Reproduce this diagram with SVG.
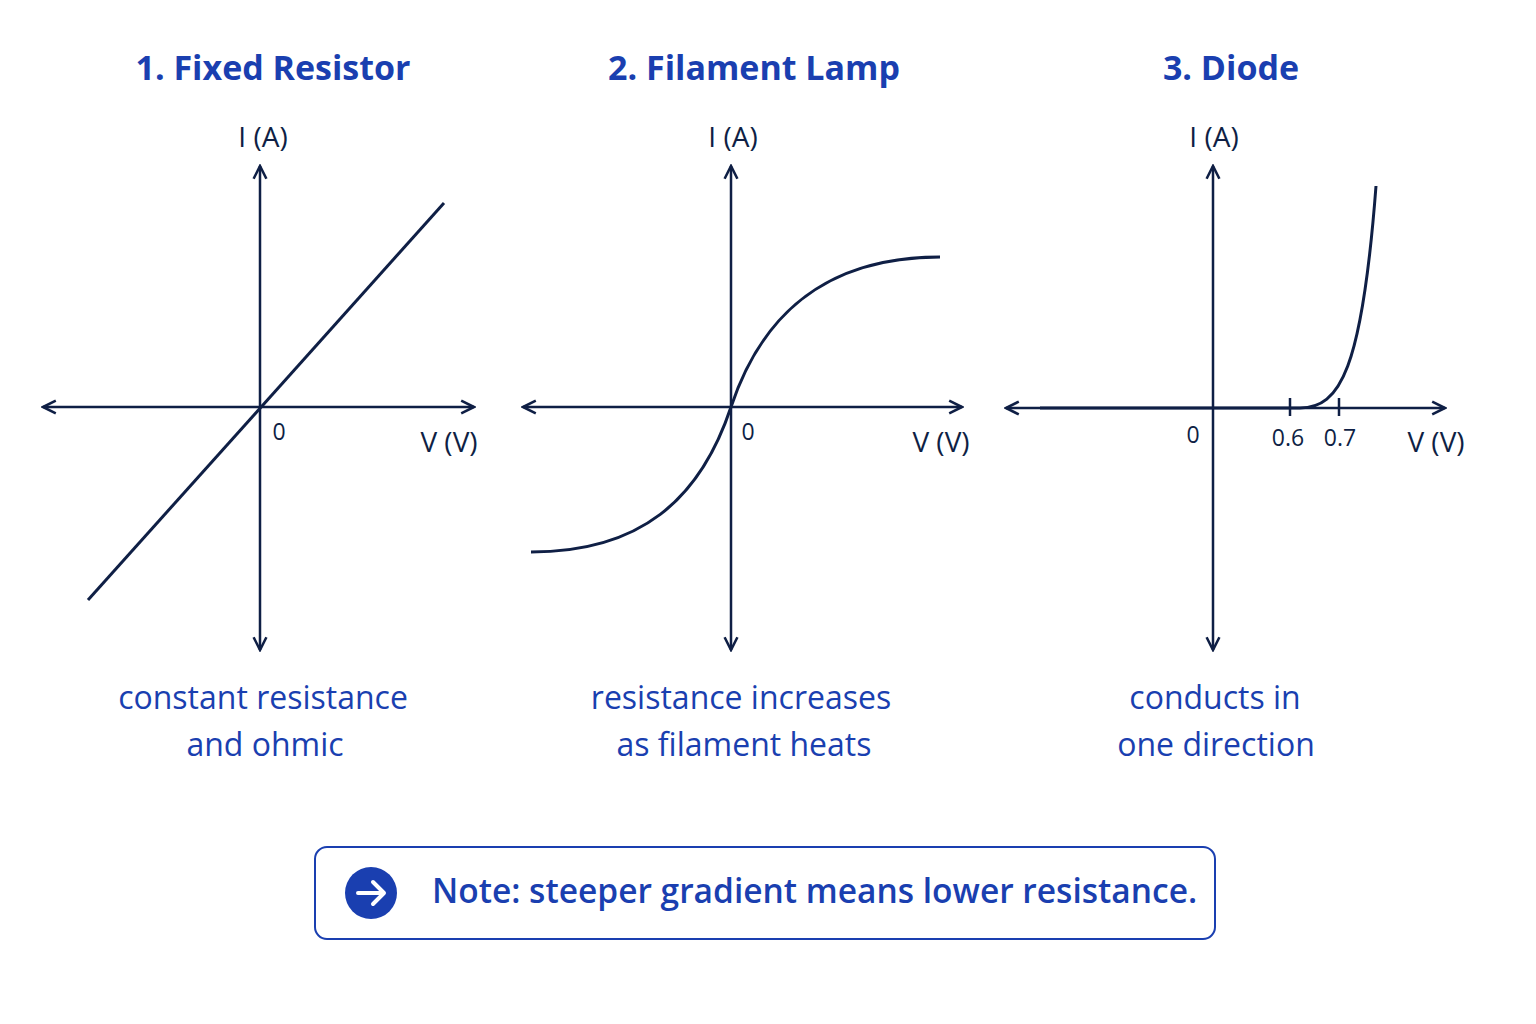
<svg xmlns="http://www.w3.org/2000/svg" width="1536" height="1024" viewBox="0 0 1536 1024">
<defs>
<marker id="ah" viewBox="0 0 10 10" refX="9" refY="5" markerWidth="16" markerHeight="16" markerUnits="userSpaceOnUse" orient="auto-start-reverse"><path d="M1,1 L9,5 L1,9" fill="none" stroke="#0f1f45" stroke-width="1.6"/></marker>
</defs>
<style>
.ax{stroke:#0f1f45;stroke-width:2.5;fill:none}
.cv{stroke:#0f1f45;stroke-width:3;fill:none}
.t{font-family:"Open Sans","Noto Sans",sans-serif;font-size:34px;font-weight:bold;fill:#1a3fb0;text-anchor:middle}
.c{font-family:"Open Sans","Noto Sans",sans-serif;font-size:32px;fill:#1a3fb0;text-anchor:middle}
.l{font-family:"Open Sans","Noto Sans",sans-serif;font-size:28px;fill:#0f1f45;text-anchor:middle}
.s{font-family:"Open Sans","Noto Sans",sans-serif;font-size:23px;fill:#0f1f45;text-anchor:middle}
</style>
<rect width="1536" height="1024" fill="#fff"/>
<g id="graph1">
<text class="t" x="273" y="80">1. Fixed Resistor</text>
<line class="ax" x1="260" y1="650" x2="260" y2="166" marker-end="url(#ah)" marker-start="url(#ah)"/>
<line class="ax" x1="43" y1="407" x2="474" y2="407" marker-end="url(#ah)" marker-start="url(#ah)"/>
<line class="cv" x1="88" y1="600" x2="444" y2="203"/>
<text class="l" x="263" y="147">I (A)</text>
<text class="s" x="279" y="440">0</text>
<text class="l" x="449" y="452">V (V)</text>
<text class="c" x="263" y="709">constant resistance</text>
<text class="c" x="265" y="756">and ohmic</text>
</g>
<g id="graph2">
<text class="t" x="754" y="80">2. Filament Lamp</text>
<line class="ax" x1="731" y1="650" x2="731" y2="166" marker-end="url(#ah)" marker-start="url(#ah)"/>
<line class="ax" x1="523" y1="407" x2="962" y2="407" marker-end="url(#ah)" marker-start="url(#ah)"/>
<path class="cv" d="M531,552 C640,552 700,500 731,407 C760,320 820,257 940,257"/>
<text class="l" x="733" y="147">I (A)</text>
<text class="s" x="748" y="440">0</text>
<text class="l" x="941" y="452">V (V)</text>
<text class="c" x="741" y="709">resistance increases</text>
<text class="c" x="744" y="756">as filament heats</text>
</g>
<g id="graph3">
<text class="t" x="1231" y="80">3. Diode</text>
<line class="ax" x1="1213" y1="650" x2="1213" y2="166" marker-end="url(#ah)" marker-start="url(#ah)"/>
<line class="ax" x1="1006" y1="408" x2="1445" y2="408" marker-end="url(#ah)" marker-start="url(#ah)"/>
<line class="ax" x1="1290" y1="398" x2="1290" y2="416"/>
<line class="ax" x1="1339" y1="398" x2="1339" y2="416"/>
<path class="cv" d="M1040,408 L1300,408 C1340,408 1362,370 1376,186"/>
<text class="l" x="1214" y="147">I (A)</text>
<text class="s" x="1193" y="443">0</text>
<text class="s" x="1288" y="446">0.6</text>
<text class="s" x="1340" y="446">0.7</text>
<text class="l" x="1436" y="452">V (V)</text>
<text class="c" x="1215" y="709">conducts in</text>
<text class="c" x="1216" y="756">one direction</text>
</g>
<g id="note">
<rect x="315" y="847" width="900" height="92" rx="12" fill="#fff" stroke="#1a3fb0" stroke-width="2"/>
<circle cx="371" cy="893" r="26" fill="#1a3fb0"/>
<path d="M358,893 H383 M373,882 L384,893 L373,904" fill="none" stroke="#fff" stroke-width="4" stroke-linecap="round" stroke-linejoin="round"/>
<text x="432" y="903" font-family="Open Sans,Noto Sans,sans-serif" font-size="33.5" font-weight="600" fill="#1a3fb0">Note: steeper gradient means lower resistance.</text>
</g>
</svg>
